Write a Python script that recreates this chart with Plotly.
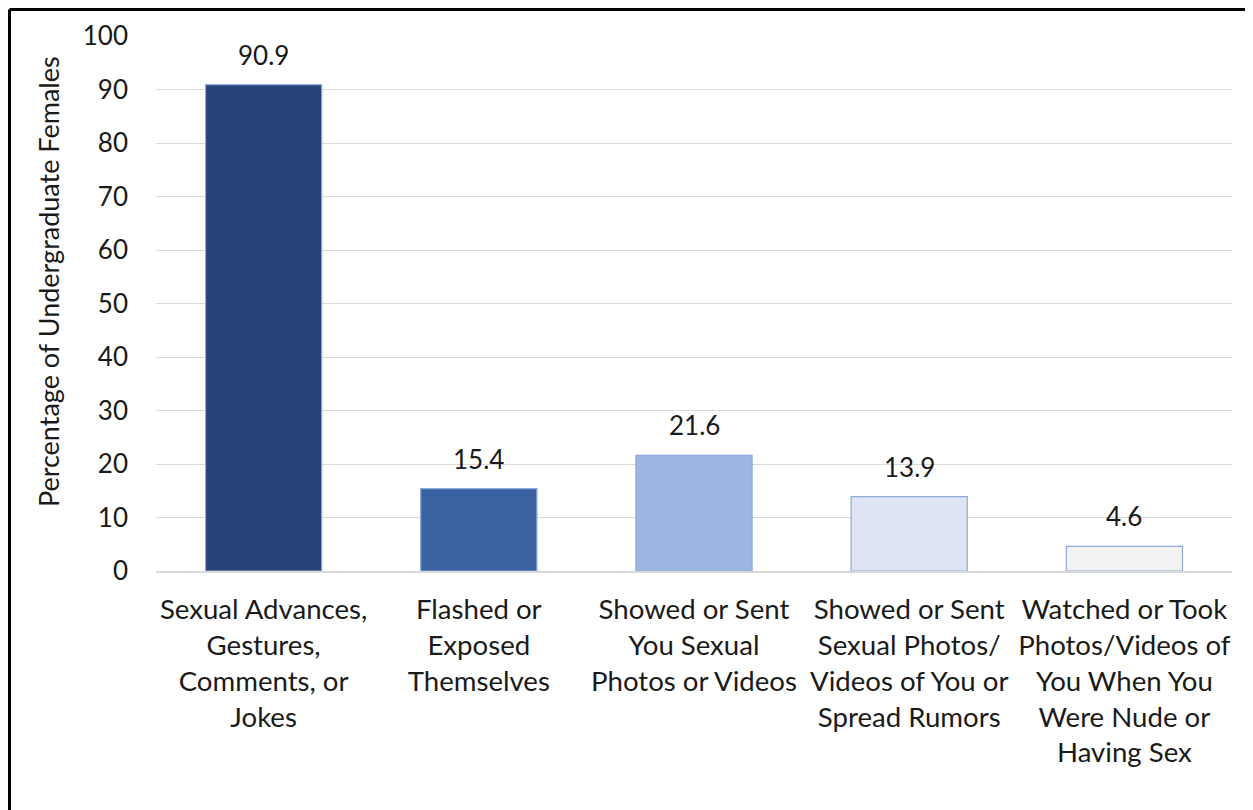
import plotly.graph_objects as go

categories = [
    "Sexual Advances,<br>Gestures,<br>Comments, or<br>Jokes",
    "Flashed or<br>Exposed<br>Themselves",
    "Showed or Sent<br>You Sexual<br>Photos or Videos",
    "Showed or Sent<br>Sexual Photos/<br>Videos of You or<br>Spread Rumors",
    "Watched or Took<br>Photos/Videos of<br>You When You<br>Were Nude or<br>Having Sex",
]
values = [90.9, 15.4, 21.6, 13.9, 4.6]
bar_colors = ["#264478", "#3A62A2", "#9DB6E1", "#DDE5F4", "#F2F2F2"]
y_title = "Percentage of Undergraduate Females"
y_ticks = list(range(0, 101, 10))

FONT = "Lato"
TXT = "#1a1a1a"

# plot area in figure pixels (page is offset by the 8px body margin)
L, R, T, B = 148, 29, 28, 247
PW = 1253 - L - R
PH = 810 - T - B

fig = go.Figure()
fig.add_trace(go.Bar(
    x=categories, y=values,
    marker=dict(color=bar_colors, line=dict(color="#8FAADC", width=1.2)),
    width=0.54,
    hoverinfo="skip",
))

for c, v in zip(categories, values):
    fig.add_annotation(x=c, y=v, text=f"{v:.1f}", showarrow=False,
                       yanchor="bottom", yshift=12,
                       font=dict(family=FONT, size=26, color=TXT))

fig.add_annotation(xref="paper", yref="paper", x=(40 - L) / PW, y=0.54,
                   xanchor="center", yanchor="middle",
                   text=y_title, textangle=-90, showarrow=False,
                   font=dict(family=FONT, size=27, color=TXT))

# chart border (left and top visible)
bx = (1.5 - L) / PW
by = 1 + (T - 1.5) / PH
fig.add_shape(type="line", xref="paper", yref="paper",
              x0=bx, x1=bx, y0=by, y1=-0.6,
              line=dict(color="black", width=3))
fig.add_shape(type="line", xref="paper", yref="paper",
              x0=bx, x1=1.1, y0=by, y1=by,
              line=dict(color="black", width=3))

fig.update_layout(
    width=1253, height=810,
    margin=dict(l=L, r=R, t=T, b=B, autoexpand=False),
    paper_bgcolor="white", plot_bgcolor="white",
    showlegend=False,
    font=dict(family=FONT, size=26, color=TXT),
    xaxis=dict(showgrid=False, showline=True, linecolor="#D9D9D9", linewidth=1.5,
               ticks="", ticklabelstandoff=13, tickfont=dict(size=27.6, color=TXT),
               automargin=False),
    yaxis=dict(range=[0, 100], tickvals=y_ticks, showgrid=True,
               gridcolor="#D9D9D9", gridwidth=1.3, zeroline=False,
               ticks="", ticklabelstandoff=27, tickfont=dict(size=26, color=TXT),
               automargin=False),
)

fig.write_html("out.html")
